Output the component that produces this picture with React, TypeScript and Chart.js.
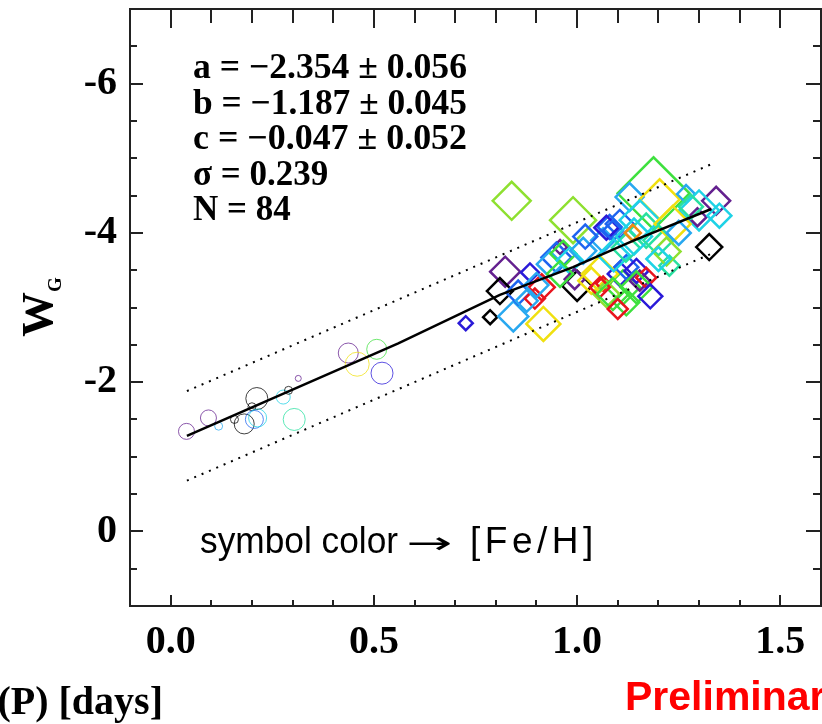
import React, { useEffect, useRef } from 'react';
import { Chart, registerables } from 'chart.js';

Chart.register(...registerables);

// ---------- axes ----------
const X_MIN = -0.1;
const X_MAX = 1.6;
const Y_MIN = -7;
const Y_MAX = 1;
const xTickValues = [0, 0.5, 1.0, 1.5];
const xTickLabels = ['0.0', '0.5', '1.0', '1.5'];
const yTickValues = [-6, -4, -2, 0];
const yTickLabels = ['-6', '-4', '-2', '0'];
const xTitle = 'log(P) [days]';
const yTitleMain = 'W';
const yTitleSub = 'G';

// ---------- fit ----------
const fitText = [
  'a = \u22122.354 \u00b1 0.056',
  'b = \u22121.187 \u00b1 0.045',
  'c = \u22120.047 \u00b1 0.052',
  '\u03c3 = 0.239',
  'N = 84',
];
const noteParts = ['symbol color', '\u2192', '[Fe/H]'];
const fitLogP = [0.04, 0.3, 0.56, 0.81, 0.99, 1.14, 1.33];
const fitW = [-1.28, -1.9, -2.52, -3.17, -3.54, -3.9, -4.32];
const upperLogP = [0.04, 1.33];
const upperW = [-1.88, -4.92];
const lowerLogP = [0.04, 1.33];
const lowerW = [-0.68, -3.72];

// ---------- [Fe/H] colour scale ----------
const fehStops = [-2.5, -2.25, -2.0, -1.75, -1.5, -1.25, -1.0, -0.75, -0.5, -0.375, -0.25, 0.0];
const fehColors = ['#000000', '#64208f', '#2a1ad8', '#1e64f0', '#28a8f0', '#1ed2e6', '#28e0a0', '#3ee03e', '#8ee030', '#f0e010', '#f08c10', '#e8141e'];

// ---------- circles (short-period stars) ----------
const circleLogP = [0.039, 0.093, 0.118, 0.157, 0.181, 0.2, 0.212, 0.206, 0.214, 0.277, 0.29, 0.314, 0.304, 0.437, 0.459, 0.507, 0.52];
const circleW = [-1.34, -1.52, -1.41, -1.5, -1.44, -1.67, -1.78, -1.5, -1.52, -1.8, -1.89, -2.05, -1.5, -2.39, -2.24, -2.44, -2.12];
const circleSize = [8, 8, 4, 4, 10, 4, 11, 9, 9, 7, 4, 3, 11, 10, 12, 10, 11];
const circleFeH = [-2.25, -2.25, -1.5, -2.5, -2.5, -2.5, -2.5, -1.75, -1.25, -1.25, -2.5, -2.25, -1.0, -2.25, -0.375, -0.75, -2.0];

// ---------- diamonds (long-period stars) ----------
const diamondLogP = [
  0.726, 0.786, 0.823, 0.81, 0.843, 0.855, 0.884, 0.913, 0.896, 0.876,
  0.917, 0.958, 0.949, 0.933, 0.966, 0.982, 1.0, 0.994, 1.035, 1.064,
  1.072, 0.839, 0.99, 1.188, 1.064, 1.08, 1.105, 1.072, 1.129, 1.203,
  1.268, 1.342, 1.3, 1.296, 1.325, 1.227, 1.154, 1.17, 1.35, 1.235,
  1.105, 1.113, 1.121, 1.146, 1.154, 1.17, 1.146, 1.088, 1.121, 1.056,
  1.056, 1.088, 0.958, 1.015, 1.09, 1.12, 1.14, 1.2, 1.25, 1.137,
  1.22, 1.02, 0.9, 1.18, 1.28, 1.1, 1.2,
];
const diamondW = [
  -2.79, -2.87, -3.48, -3.22, -2.88, -3.2, -3.47, -3.27, -3.12, -3.09,
  -2.78, -3.81, -3.67, -3.58, -3.72, -3.63, -3.29, -3.38, -3.36, -3.32,
  -3.18, -4.43, -4.17, -4.53, -3.9, -4.08, -4.12, -4.07, -4.48, -4.45,
  -4.52, -4.43, -4.3, -4.21, -3.81, -3.56, -4.17, -4.03, -4.23, -4.12,
  -3.45, -3.27, -3.54, -3.49, -3.36, -3.4, -3.27, -4.03, -3.07, -3.45,
  -3.27, -3.18, -3.45, -3.76, -3.7, -3.8, -3.95, -3.9, -4.0, -4.0,
  -3.75, -3.95, -3.3, -3.15, -4.35, -2.98, -3.65,
];
const diamondSize = [
  7, 7, 15, 13, 15, 12, 9, 13, 10, 11,
  17, 7, 15, 13, 13, 13, 15, 10, 13, 7,
  13, 19, 23, 36, 12, 12, 14, 12, 14, 20,
  9, 14, 20, 9, 13, 10, 20, 17, 12, 18,
  12, 17, 12, 12, 10, 10, 16, 10, 13, 18,
  10, 16, 13, 13, 16, 14, 18, 15, 12, 8,
  14, 12, 12, 12, 12, 10, 12,
];
const diamondFeH = [
  -2.0, -2.5, -2.25, -2.5, -1.5, -1.75, -2.0, 0.0, 0.0, -1.5,
  -0.375, -2.25, -1.75, -1.5, -0.75, -1.25, -2.5, -2.25, -0.375, 0.0,
  -0.5, -0.5, -0.5, -0.75, -1.5, -1.75, -1.75, -2.0, -1.5, -0.375,
  -1.5, -2.25, -1.25, -2.25, -2.5, -1.0, -1.25, -1.0, -1.25, -0.375,
  -2.0, -0.75, -1.75, -2.0, -2.25, 0.0, -0.75, -1.75, -0.75, -0.375,
  0.0, -0.75, -0.75, -1.5, -1.25, -1.0, -1.25, -1.0, -1.5, -0.25,
  -0.5, -1.75, -1.5, -2.0, -1.0, 0.0, -1.25,
];

const fehToColor = (feh: number, alpha = 1) => {
  let best = 0;
  for (let i = 1; i < fehStops.length; i++) {
    if (Math.abs(fehStops[i] - feh) < Math.abs(fehStops[best] - feh)) best = i;
  }
  const hex = fehColors[best];
  const r = parseInt(hex.slice(1, 3), 16);
  const g = parseInt(hex.slice(3, 5), 16);
  const b = parseInt(hex.slice(5, 7), 16);
  return `rgba(${r},${g},${b},${alpha})`;
};

const SERIF = '"Liberation Serif", "Times New Roman", serif';
const SANS = '"Liberation Sans", Arial, sans-serif';

const fillTextWidth = (ctx: CanvasRenderingContext2D, text: string, x: number, y: number, width: number) => {
  const m = ctx.measureText(text).width;
  ctx.save();
  ctx.translate(x, y);
  ctx.scale(width / m, 1);
  ctx.fillText(text, 0, 0);
  ctx.restore();
};

const decorPlugin = {
  id: 'decor',
  afterDraw(chart: any) {
    const { ctx, chartArea } = chart;
    const { left, right, top, bottom } = chartArea;
    const xs = chart.scales.x;
    const ys = chart.scales.y;
    ctx.save();
    ctx.strokeStyle = '#222';
    ctx.lineWidth = 2;
    ctx.strokeRect(left, top, right - left, bottom - top);

    // x ticks (bottom and top, inward)
    for (let k = 0; k <= 15; k++) {
      const v = k / 10;
      const px = Math.round(xs.getPixelForValue(v));
      const major = k % 5 === 0;
      ctx.beginPath();
      ctx.moveTo(px, bottom);
      ctx.lineTo(px, bottom - (major ? 11 : 6));
      ctx.moveTo(px, top);
      ctx.lineTo(px, top + (major ? 19 : 14));
      ctx.stroke();
    }
    // y ticks (left and right, inward)
    for (let k = 1; k < 16; k++) {
      const v = Y_MIN + k * 0.5;
      const py = Math.round(ys.getPixelForValue(v));
      const major = yTickValues.includes(v);
      ctx.beginPath();
      ctx.moveTo(left, py);
      ctx.lineTo(left + (major ? 13 : 7), py);
      ctx.moveTo(right, py);
      ctx.lineTo(right - (major ? 15 : 8), py);
      ctx.stroke();
    }

    // tick labels
    ctx.fillStyle = '#000';
    ctx.font = `bold 40px ${SERIF}`;
    ctx.textBaseline = 'middle';
    ctx.textAlign = 'center';
    xTickValues.forEach((v, i) => ctx.fillText(xTickLabels[i], xs.getPixelForValue(v), bottom + 37));
    ctx.textAlign = 'right';
    yTickValues.forEach((v, i) => ctx.fillText(yTickLabels[i], left - 13, ys.getPixelForValue(v)));

    // fit parameters
    ctx.font = `bold 35px ${SERIF}`;
    ctx.textAlign = 'left';
    ctx.textBaseline = 'alphabetic';
    fitText.forEach((t, i) => fillTextWidth(ctx, t, 193, 78 + i * 35.5, i < 3 ? 274 : ctx.measureText(t).width));

    // colour note
    ctx.font = `36px ${SANS}`;
    fillTextWidth(ctx, noteParts[0], 200, 553, 198);
    ctx.font = `30px "DejaVu Sans", sans-serif`;
    fillTextWidth(ctx, noteParts[1], 406, 553, 46);
    ctx.font = `37px ${SANS}`;
    (ctx as any).letterSpacing = '4.5px';
    ctx.fillText(noteParts[2], 470, 553);
    (ctx as any).letterSpacing = '0px';

    // x title
    ctx.font = `bold 40px ${SERIF}`;
    ctx.textAlign = 'right';
    ctx.fillText(xTitle, 163, 714);

    // y title (rotated)
    ctx.save();
    ctx.translate(52, 337);
    ctx.rotate(-Math.PI / 2);
    ctx.textAlign = 'left';
    ctx.font = `bold 45px ${SERIF}`;
    ctx.fillText(yTitleMain, 0, 0);
    const w = ctx.measureText(yTitleMain).width;
    ctx.font = `bold 19px ${SERIF}`;
    ctx.fillText(yTitleSub, w, 9);
    ctx.restore();

    // preliminary
    ctx.fillStyle = '#ff0000';
    ctx.textAlign = 'left';
    ctx.font = `bold 41px ${SANS}`;
    ctx.fillText('Preliminary', 625, 710);
    ctx.restore();
  },
};

export default function App() {
  const canvasRef = useRef<HTMLCanvasElement | null>(null);

  useEffect(() => {
    const canvas = canvasRef.current;
    if (!canvas) return;

    const circlePts = circleLogP.map((x, i) => ({ x, y: circleW[i] }));
    const diamondPts = diamondLogP.map((x, i) => ({ x, y: diamondW[i] }));

    const chart = new Chart(canvas, {
      type: 'scatter',
      data: {
        datasets: [
          {
            label: 'fit',
            data: fitLogP.map((x, i) => ({ x, y: fitW[i] })),
            showLine: true,
            borderColor: '#000',
            borderWidth: 2.5,
            pointRadius: 0,
            tension: 0,
          },
          {
            label: 'upper',
            data: upperLogP.map((x, i) => ({ x, y: upperW[i] })),
            showLine: true,
            borderColor: '#000',
            borderWidth: 2,
            borderDash: [2, 6],
            pointRadius: 0,
          },
          {
            label: 'lower',
            data: lowerLogP.map((x, i) => ({ x, y: lowerW[i] })),
            showLine: true,
            borderColor: '#000',
            borderWidth: 2,
            borderDash: [2, 6],
            pointRadius: 0,
          },
          {
            label: 'long period',
            data: diamondPts,
            pointStyle: 'rectRot',
            pointRadius: diamondSize,
            pointBorderWidth: 2.5,
            pointBorderColor: diamondFeH.map((f) => fehToColor(f)),
            pointBackgroundColor: 'rgba(0,0,0,0)',
          },
          {
            label: 'short period',
            data: circlePts,
            pointStyle: 'circle',
            pointRadius: circleSize,
            pointBorderWidth: 1,
            pointBorderColor: circleFeH.map((f) => fehToColor(f, 0.75)),
            pointBackgroundColor: 'rgba(0,0,0,0)',
          },
        ],
      } as any,
      options: {
        animation: false,
        responsive: false,
        devicePixelRatio: 1,
        events: [],
        layout: { autoPadding: false, padding: { left: 130, top: 9, right: 1, bottom: 118 } },
        plugins: { legend: { display: false }, tooltip: { enabled: false } },
        scales: {
          x: { type: 'linear', min: X_MIN, max: X_MAX, display: false },
          y: { type: 'linear', min: Y_MIN, max: Y_MAX, reverse: true, display: false },
        },
      } as any,
      plugins: [decorPlugin],
    });

    return () => chart.destroy();
  }, []);

  return (
    <div style={{ position: 'absolute', left: 0, top: 0, width: 822, height: 724, background: '#fff' }}>
      <canvas ref={canvasRef} width={822} height={724} />
    </div>
  );
}
